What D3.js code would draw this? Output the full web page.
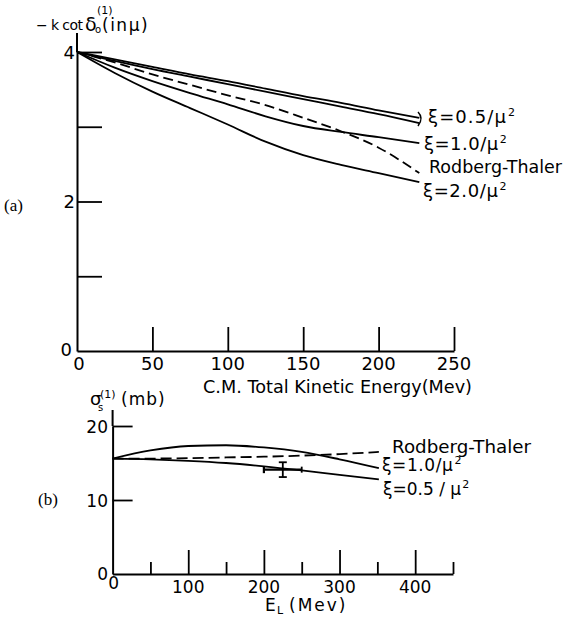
<!DOCTYPE html>
<html><head><meta charset="utf-8">
<script src="https://cdn.jsdelivr.net/npm/d3@7"></script>
<style>
body{margin:0;background:#fff}
svg{display:block;background:#fff}
text{font-family:"DejaVu Sans",sans-serif;fill:#000}
</style>
</head><body>
<svg id="c" width="563" height="617"></svg>
<script>
// ---------- Panel (a): -k cot delta vs C.M. total kinetic energy ----------
const energyCM    = [0, 25, 50, 75, 100, 125, 150, 175, 200, 227];
const xiHalfUpper = [4.00, 3.90, 3.80, 3.70, 3.61, 3.51, 3.41, 3.32, 3.22, 3.12];
const xiHalfLower = [4.00, 3.88, 3.77, 3.67, 3.57, 3.47, 3.37, 3.27, 3.17, 3.05];
const xiOneA      = [4.00, 3.79, 3.61, 3.45, 3.30, 3.14, 3.01, 2.93, 2.86, 2.78];
const rodbergA    = [4.00, 3.86, 3.70, 3.56, 3.42, 3.29, 3.12, 2.94, 2.72, 2.38];
const xiTwoA      = [4.00, 3.72, 3.47, 3.25, 3.03, 2.80, 2.62, 2.49, 2.38, 2.26];
const xTicksA     = [50, 100, 150, 200, 250];
const xLabelsA    = [0, 50, 100, 150, 200, 250];
const yTicksA     = [1, 2, 3, 4];
const yLabelsA    = [4, 2, 0];

// ---------- Panel (b): sigma_s vs lab energy ----------
const energyLab   = [0, 50, 100, 150, 200, 250, 300, 352];
const sigXiOne    = [15.6, 16.7, 17.3, 17.4, 17.1, 16.5, 15.5, 14.3];
const sigRodberg  = [15.6, 15.6, 15.65, 15.75, 15.85, 16.0, 16.2, 16.5];
const sigXiHalf   = [15.6, 15.5, 15.3, 15.0, 14.55, 14.0, 13.4, 12.8];
const expEnergy   = [225];
const expSigma    = [14.1];
const expErrE     = [25];
const expErrSigma = [1.0];
const xMajorB     = [100, 200, 300, 400];
const xMinorB     = [50, 150, 250, 350, 450];
const xLabelsB    = [0, 100, 200, 300, 400];
const yTicksB     = [10, 20];
const yLabelsB    = [20, 10, 0];

const svg = d3.select('#c');
const ink = '#000';

// scales
const xA = d3.scaleLinear().domain([0, 250]).range([77, 454]);
const yA = d3.scaleLinear().domain([0, 4]).range([351, 52]);
const xB = d3.scaleLinear().domain([0, 450]).range([112.6, 453]);
const yB = d3.scaleLinear().domain([0, 20]).range([574, 426]);

function styleAxis(g){
  g.selectAll('path.domain').attr('stroke', ink).attr('stroke-width', 2);
  g.selectAll('.tick line').attr('stroke', ink).attr('stroke-width', 1.8);
  g.selectAll('.tick text').remove();
}

// ---- Panel (a) axes ----
const gxA = svg.append('g').attr('transform', `translate(0,${yA(0)})`)
  .call(d3.axisBottom(xA).tickValues(xTicksA).tickSizeInner(-24).tickSizeOuter(0).tickFormat(''));
styleAxis(gxA);
const gyA = svg.append('g').attr('transform', `translate(${xA(0)},0)`)
  .call(d3.axisRight(yA).tickValues(yTicksA).tickSizeInner(25).tickSizeOuter(0).tickFormat(''));
styleAxis(gyA);
svg.append('line').attr('x1', xA(0)).attr('x2', xA(0)).attr('y1', 33).attr('y2', yA(4))
  .attr('stroke', ink).attr('stroke-width', 2);

svg.append('g').selectAll('text').data(xLabelsA).join('text')
  .attr('x', d => d === 0 ? xA(d) + 2 : xA(d)).attr('y', 370)
  .attr('text-anchor', 'middle').attr('font-size', 18).text(d => d);
svg.append('g').selectAll('text').data(yLabelsA).join('text')
  .attr('x', d => d === 0 ? 72 : 75).attr('y', d => yA(d) + 6.5 - (d === 0 ? 2 : 0))
  .attr('text-anchor', 'end').attr('font-size', 18).text(d => d);

svg.append('text').attr('x', 203).attr('y', 393).attr('font-size', 18)
  .attr('textLength', 269).attr('lengthAdjust', 'spacingAndGlyphs')
  .text('C.M. Total Kinetic Energy(Mev)');

// y title (a) as one text with positioned tspans
const tA = svg.append('text').attr('font-size', 16);
tA.append('tspan').attr('x', 36).attr('y', 30).attr('font-size', 14).attr('letter-spacing', -0.6).text('− k cot');
tA.append('tspan').attr('x', 85).attr('y', 31).attr('font-size', 19).attr('letter-spacing', 0).text('δ');
tA.append('tspan').attr('x', 95).attr('y', 33).attr('font-size', 10).text('o');
tA.append('tspan').attr('x', 97).attr('y', 14).attr('font-size', 11).text('(1)');
tA.append('tspan').attr('x', 102).attr('y', 31).attr('font-size', 17).attr('letter-spacing', 1.5).text('(inμ)');

// ---- Panel (a) curves ----
const lineA = d3.line().x(d => xA(d[0])).y(d => yA(d[1])).curve(d3.curveMonotoneX);
const seriesA = [
  {v: xiHalfUpper, dash: null},
  {v: xiHalfLower, dash: null},
  {v: xiOneA, dash: null},
  {v: rodbergA, dash: '10,5'},
  {v: xiTwoA, dash: null}
];
svg.append('g').selectAll('path').data(seriesA).join('path')
  .attr('d', s => lineA(energyCM.map((e, i) => [e, s.v[i]])))
  .attr('fill', 'none').attr('stroke', ink).attr('stroke-width', 1.8)
  .attr('stroke-dasharray', s => s.dash);

// labels: one text element each, superscript as positioned tspan
function xiLabel(x, y, txt, size, spacing){
  const t = svg.append('text').attr('font-size', size);
  t.append('tspan').attr('x', x).attr('y', y).attr('letter-spacing', spacing).text(txt);
  t.append('tspan').attr('dx', 1).attr('dy', -7).attr('font-size', 11).attr('letter-spacing', 0).text('2');
}
// small brace joining the two ξ=0.5 curves
svg.append('path').attr('d', 'M418,112 Q424,118 418,126').attr('fill', 'none')
  .attr('stroke', ink).attr('stroke-width', 1.5);
xiLabel(428, 123, 'ξ=0.5/μ', 18, 1.1);
xiLabel(424, 150, 'ξ=1.0/μ', 18, 0.5);
svg.append('text').attr('x', 429).attr('y', 173).attr('font-size', 17)
  .attr('textLength', 133).attr('lengthAdjust', 'spacingAndGlyphs').text('Rodberg-Thaler');
xiLabel(423, 197, 'ξ=2.0/μ', 18, 0.6);

svg.append('text').attr('x', 4).attr('y', 211).attr('font-size', 17)
  .style('font-family', '"Liberation Serif",serif').text('(a)');

// ---- Panel (b) axes ----
const gxB = svg.append('g').attr('transform', `translate(0,${yB(0)})`)
  .call(d3.axisBottom(xB).tickValues(xMajorB).tickSizeInner(-24).tickSizeOuter(0).tickFormat(''));
styleAxis(gxB);
const gxB2 = svg.append('g').attr('transform', `translate(0,${yB(0)})`)
  .call(d3.axisBottom(xB).tickValues(xMinorB).tickSizeInner(-12).tickSizeOuter(0).tickFormat(''));
styleAxis(gxB2);
gxB2.select('path.domain').remove();
const gyB = svg.append('g').attr('transform', `translate(${xB(0)},0)`)
  .call(d3.axisRight(yB).tickValues(yTicksB).tickSizeInner(20).tickSizeOuter(0).tickFormat(''));
styleAxis(gyB);
svg.append('line').attr('x1', xB(0)).attr('x2', xB(0)).attr('y1', 410).attr('y2', yB(20))
  .attr('stroke', ink).attr('stroke-width', 2);

svg.append('g').selectAll('text').data(xLabelsB).join('text')
  .attr('x', d => d === 0 ? xB(d) + 1 : xB(d)).attr('y', d => d === 0 ? 589 : 593)
  .attr('text-anchor', 'middle').attr('font-size', 17).text(d => d);
svg.append('g').selectAll('text').data(yLabelsB).join('text')
  .attr('x', 108).attr('y', d => d === 0 ? 579.5 : yB(d) + 6.5)
  .attr('text-anchor', 'end').attr('font-size', 17).text(d => d);

// x title (b)
const tE = svg.append('text').attr('font-size', 17);
tE.append('tspan').attr('x', 265).attr('y', 611).text('E');
tE.append('tspan').attr('x', 277).attr('y', 614).attr('font-size', 11).text('L');
tE.append('tspan').attr('x', 289).attr('y', 611).attr('letter-spacing', 2).text('(Mev)');

// y title (b)
const tS = svg.append('text').attr('font-size', 17);
tS.append('tspan').attr('x', 90).attr('y', 405).attr('font-size', 18).text('σ');
tS.append('tspan').attr('x', 98).attr('y', 411).attr('font-size', 10).text('s');
tS.append('tspan').attr('x', 100).attr('y', 398).attr('font-size', 11).text('(1)');
tS.append('tspan').attr('x', 121).attr('y', 405).attr('letter-spacing', 1).text('(mb)');

// ---- Panel (b) curves ----
const lineB = d3.line().x(d => xB(d[0])).y(d => yB(d[1])).curve(d3.curveMonotoneX);
const seriesB = [
  {v: sigXiOne, dash: null},
  {v: sigRodberg, dash: '11,5'},
  {v: sigXiHalf, dash: null}
];
svg.append('g').selectAll('path').data(seriesB).join('path')
  .attr('d', s => lineB(energyLab.map((e, i) => [e, s.v[i]])))
  .attr('fill', 'none').attr('stroke', ink).attr('stroke-width', 1.8)
  .attr('stroke-dasharray', s => s.dash);

// experimental point with error bars
const gE = svg.append('g').attr('stroke', ink);
expEnergy.forEach((e, i) => {
  const cx = xB(e), cy = yB(expSigma[i]);
  const xl = xB(e - expErrE[i]), xr = xB(e + expErrE[i]);
  const yt = yB(expSigma[i] + expErrSigma[i]), yb = yB(expSigma[i] - expErrSigma[i]);
  gE.append('line').attr('x1', xl).attr('x2', xr).attr('y1', cy).attr('y2', cy).attr('stroke-width', 2.2);
  gE.append('line').attr('x1', xl).attr('x2', xl).attr('y1', cy - 3.5).attr('y2', cy + 3.5).attr('stroke-width', 2.2);
  gE.append('line').attr('x1', xr).attr('x2', xr).attr('y1', cy - 3).attr('y2', cy + 3).attr('stroke-width', 1.8);
  gE.append('line').attr('x1', cx).attr('x2', cx).attr('y1', yt).attr('y2', yb).attr('stroke-width', 1.8);
  gE.append('line').attr('x1', cx - 4).attr('x2', cx + 4).attr('y1', yt).attr('y2', yt).attr('stroke-width', 1.8);
  gE.append('line').attr('x1', cx - 4).attr('x2', cx + 4).attr('y1', yb).attr('y2', yb).attr('stroke-width', 1.8);
});

// labels (b)
svg.append('text').attr('x', 392).attr('y', 453).attr('font-size', 17)
  .attr('textLength', 139).attr('lengthAdjust', 'spacingAndGlyphs').text('Rodberg-Thaler');
xiLabel(382, 471, 'ξ=1.0/μ', 17, 0.6);
xiLabel(383, 495, 'ξ=0.5 / μ', 17, 0);

svg.append('text').attr('x', 38).attr('y', 505).attr('font-size', 17)
  .style('font-family', '"Liberation Serif",serif').text('(b)');
</script>
</body></html>
